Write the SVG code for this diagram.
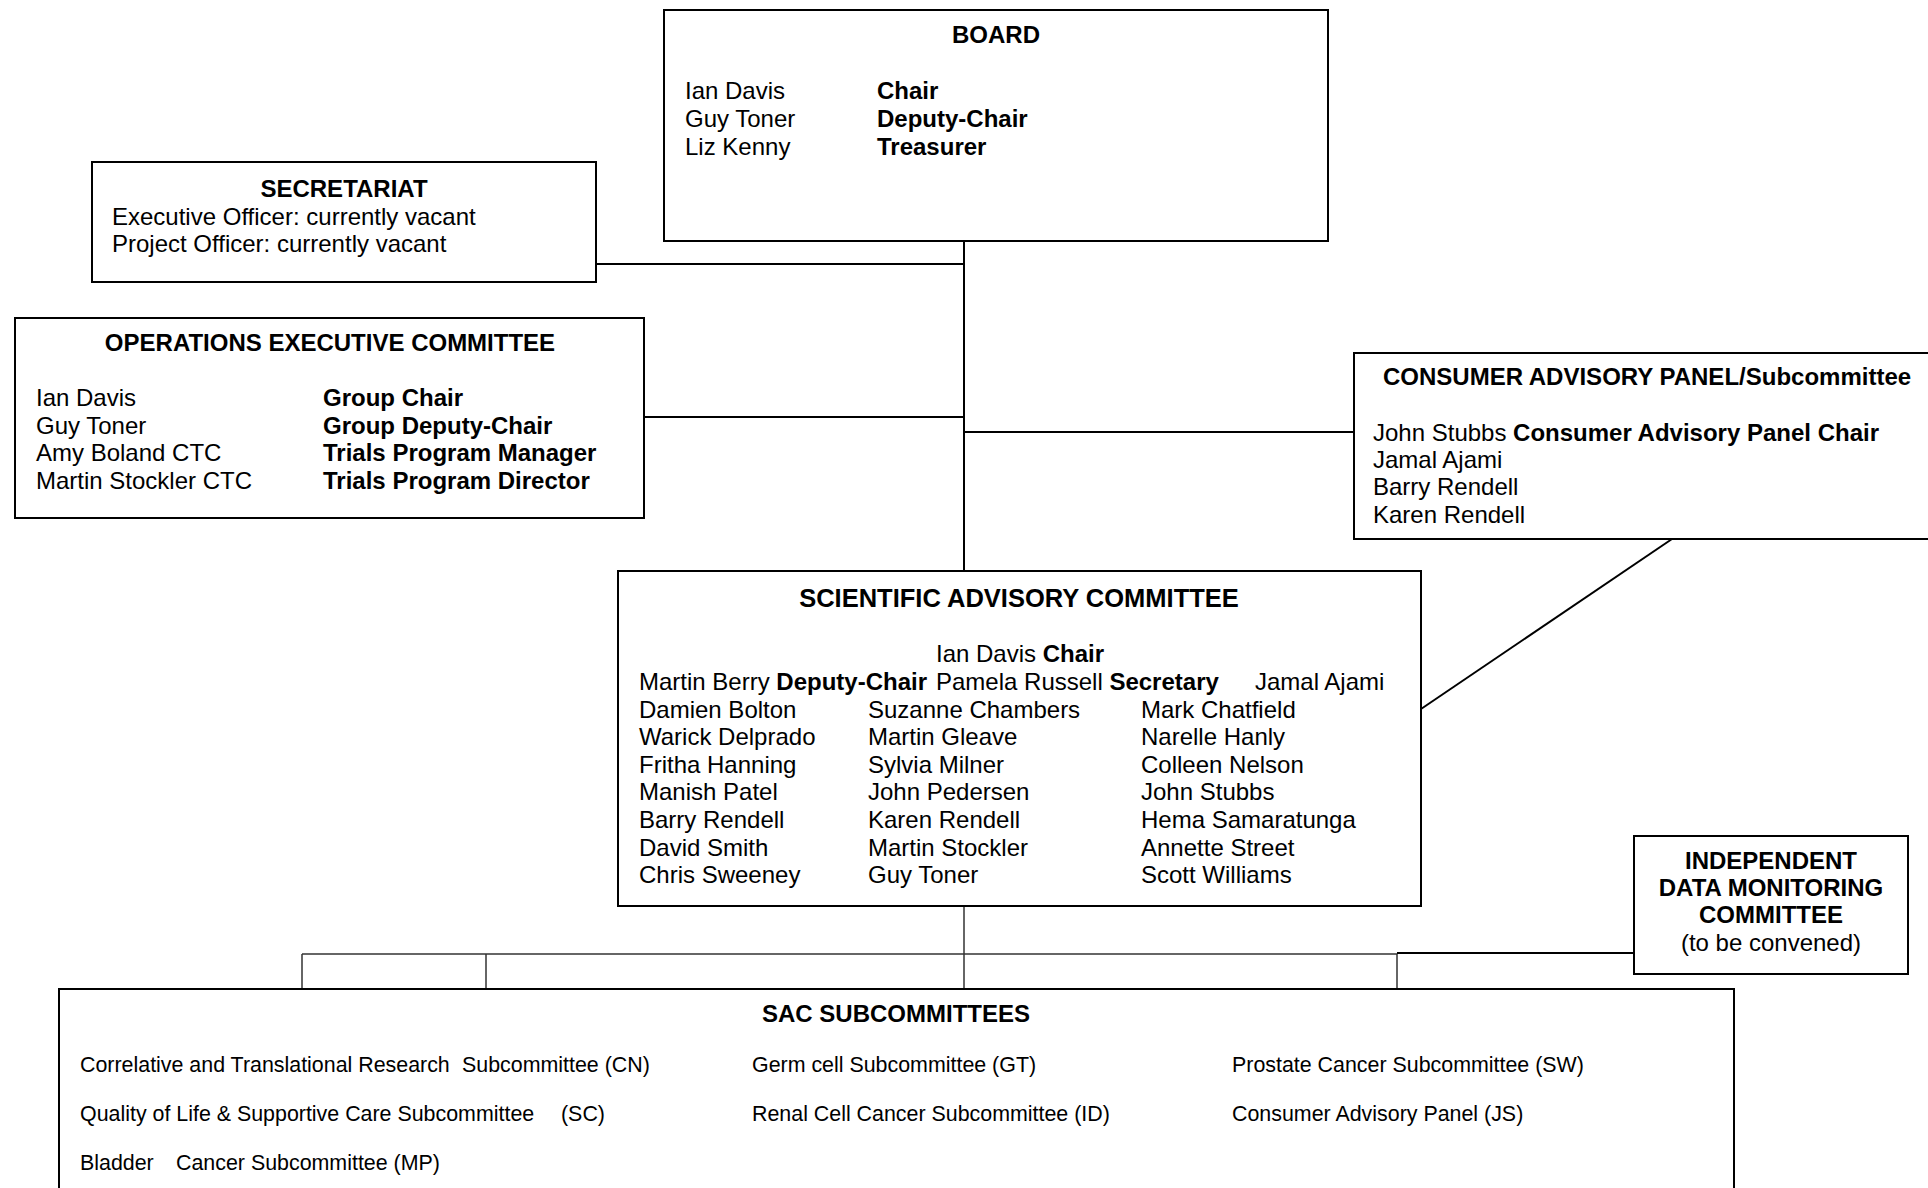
<svg xmlns="http://www.w3.org/2000/svg" width="1928" height="1188" viewBox="0 0 1928 1188">
<style>
text{font-family:"Liberation Sans",Arial,sans-serif;font-size:24px;fill:#000}
.b{font-weight:bold}
.t{font-weight:bold;text-anchor:middle}
.c{text-anchor:middle}
.s{font-size:21.4px}
.box{fill:#fff;stroke:#000;stroke-width:2}
.ln{stroke:#000;stroke-width:2;fill:none}
.bus{stroke:#333;stroke-width:1.5;fill:none}
</style>
<rect width="1928" height="1188" fill="#fff"/>
<g id="connectors">
<line class="ln" x1="964" y1="241" x2="964" y2="571"/>
<line class="ln" x1="596" y1="264" x2="964" y2="264"/>
<line class="ln" x1="644" y1="417" x2="964" y2="417"/>
<line class="ln" x1="964" y1="432" x2="1354" y2="432"/>
<line class="ln" x1="1672" y1="539" x2="1421" y2="709"/>
<line class="bus" x1="964" y1="906" x2="964" y2="989"/>
<line class="bus" x1="302" y1="954" x2="1397" y2="954"/>
<line class="ln" x1="1397" y1="953" x2="1634" y2="953"/>
<line class="bus" x1="302" y1="954" x2="302" y2="989"/>
<line class="bus" x1="486" y1="954" x2="486" y2="989"/>
<line class="bus" x1="1397" y1="954" x2="1397" y2="989"/>
</g>
<g id="board">
<rect class="box" x="664" y="10" width="664" height="231"/>
<text class="t" x="996" y="43">BOARD</text>
<text x="685" y="99">Ian Davis</text>
<text x="685" y="127">Guy Toner</text>
<text x="685" y="155">Liz Kenny</text>
<text class="b" x="877" y="99">Chair</text>
<text class="b" x="877" y="127">Deputy-Chair</text>
<text class="b" x="877" y="155">Treasurer</text>
</g>
<g id="secretariat">
<rect class="box" x="92" y="162" width="504" height="120"/>
<text class="t" x="344" y="197">SECRETARIAT</text>
<text x="112" y="225">Executive Officer: currently vacant</text>
<text x="112" y="252">Project Officer: currently vacant</text>
</g>
<g id="oec">
<rect class="box" x="15" y="318" width="629" height="200"/>
<text class="t" x="330" y="351">OPERATIONS EXECUTIVE COMMITTEE</text>
<text x="36" y="406">Ian Davis</text>
<text x="36" y="434">Guy Toner</text>
<text x="36" y="461">Amy Boland CTC</text>
<text x="36" y="489">Martin Stockler CTC</text>
<text class="b" x="323" y="406">Group Chair</text>
<text class="b" x="323" y="434">Group Deputy-Chair</text>
<text class="b" x="323" y="461">Trials Program Manager</text>
<text class="b" x="323" y="489">Trials Program Director</text>
</g>
<g id="consumer">
<rect class="box" x="1354" y="353" width="590" height="186"/>
<text class="b" x="1383" y="385">CONSUMER ADVISORY PANEL/Subcommittee</text>
<text x="1373" y="441">John Stubbs <tspan class="b">Consumer Advisory Panel Chair</tspan></text>
<text x="1373" y="468">Jamal Ajami</text>
<text x="1373" y="495">Barry Rendell</text>
<text x="1373" y="523">Karen Rendell</text>
</g>
<g id="sac">
<rect class="box" x="618" y="571" width="803" height="335"/>
<text class="t" x="1019" y="607" style="font-size:25.5px">SCIENTIFIC ADVISORY COMMITTEE</text>
<text x="936" y="662">Ian Davis <tspan class="b">Chair</tspan></text>
<text x="639" y="690">Martin Berry <tspan class="b">Deputy-Chair</tspan></text>
<text x="936" y="690">Pamela Russell <tspan class="b">Secretary</tspan></text>
<text x="1255" y="690">Jamal Ajami</text>
<text x="639" y="718">Damien Bolton</text>
<text x="639" y="745">Warick Delprado</text>
<text x="639" y="773">Fritha Hanning</text>
<text x="639" y="800">Manish Patel</text>
<text x="639" y="828">Barry Rendell</text>
<text x="639" y="856">David Smith</text>
<text x="639" y="883">Chris Sweeney</text>
<text x="868" y="718">Suzanne Chambers</text>
<text x="868" y="745">Martin Gleave</text>
<text x="868" y="773">Sylvia Milner</text>
<text x="868" y="800">John Pedersen</text>
<text x="868" y="828">Karen Rendell</text>
<text x="868" y="856">Martin Stockler</text>
<text x="868" y="883">Guy Toner</text>
<text x="1141" y="718">Mark Chatfield</text>
<text x="1141" y="745">Narelle Hanly</text>
<text x="1141" y="773">Colleen Nelson</text>
<text x="1141" y="800">John Stubbs</text>
<text x="1141" y="828">Hema Samaratunga</text>
<text x="1141" y="856">Annette Street</text>
<text x="1141" y="883">Scott Williams</text>
</g>
<g id="idmc">
<rect class="box" x="1634" y="836" width="274" height="138"/>
<text class="t" x="1771" y="869">INDEPENDENT</text>
<text class="t" x="1771" y="896">DATA MONITORING</text>
<text class="t" x="1771" y="923">COMMITTEE</text>
<text class="c" x="1771" y="951">(to be convened)</text>
</g>
<g id="sac-subcommittees">
<rect class="box" x="59" y="989" width="1675" height="230"/>
<text class="t" x="896" y="1022">SAC SUBCOMMITTEES</text>
<text class="s" x="80" y="1072">Correlative and Translational Research</text>
<text class="s" x="462" y="1072">Subcommittee (CN)</text>
<text class="s" x="80" y="1121">Quality of Life &amp; Supportive Care Subcommittee</text>
<text class="s" x="561" y="1121">(SC)</text>
<text class="s" x="80" y="1170">Bladder</text>
<text class="s" x="176" y="1170">Cancer Subcommittee (MP)</text>
<text class="s" x="752" y="1072">Germ cell Subcommittee (GT)</text>
<text class="s" x="752" y="1121">Renal Cell Cancer Subcommittee (ID)</text>
<text class="s" x="1232" y="1072">Prostate Cancer Subcommittee (SW)</text>
<text class="s" x="1232" y="1121">Consumer Advisory Panel (JS)</text>
</g>
</svg>
